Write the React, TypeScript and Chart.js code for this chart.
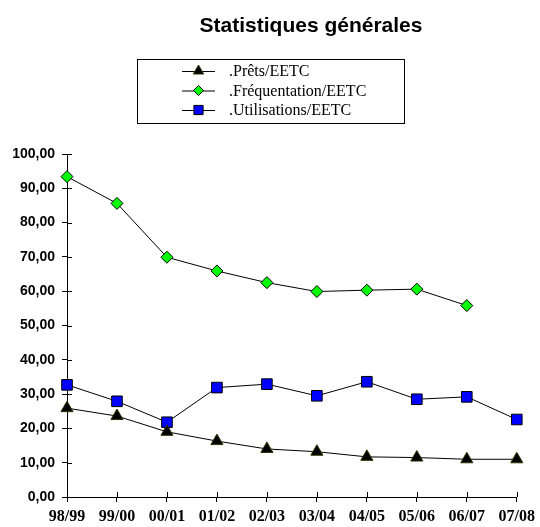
import React, { useEffect, useRef } from 'react';
import { Chart, registerables } from 'chart.js';

Chart.register(...registerables);

const chartTitle = 'Statistiques générales';
const categories = ['98/99', '99/00', '00/01', '01/02', '02/03', '03/04', '04/05', '05/06', '06/07', '07/08'];
const seriesLabels = ['.Prêts/EETC', '.Fréquentation/EETC', '.Utilisations/EETC'];
const pretsValues = [25.9, 23.6, 19.0, 16.3, 14.0, 13.2, 11.7, 11.5, 11.0, 11.0];
const frequentationValues = [93.4, 85.6, 69.9, 65.9, 62.5, 59.9, 60.3, 60.6, 55.8, null];
const utilisationsValues = [32.7, 27.9, 21.8, 31.9, 32.9, 29.5, 33.6, 28.5, 29.2, 22.6];
const yMin = 0;
const yMax = 100;
const yStep = 10;

const formatTick = (v: number) => v.toFixed(2).replace('.', ',');

function drawMarker(ctx: CanvasRenderingContext2D, style: string, x: number, y: number, r: number, fill: string, stroke: string) {
  ctx.save();
  ctx.fillStyle = fill;
  ctx.strokeStyle = stroke;
  ctx.lineWidth = 1;
  ctx.beginPath();
  if (style === 'triangle') {
    ctx.moveTo(x, y - r);
    ctx.lineTo(x + r * 0.866, y + r * 0.5);
    ctx.lineTo(x - r * 0.866, y + r * 0.5);
    ctx.closePath();
  } else if (style === 'rectRot') {
    ctx.moveTo(x, y - r);
    ctx.lineTo(x + r, y);
    ctx.lineTo(x, y + r);
    ctx.lineTo(x - r, y);
    ctx.closePath();
  } else {
    const s = r * Math.SQRT1_2;
    ctx.rect(x - s, y - s, 2 * s, 2 * s);
  }
  ctx.fill();
  ctx.stroke();
  ctx.restore();
}

const decorPlugin = {
  id: 'decor',
  afterDraw(chart: any) {
    const ctx: CanvasRenderingContext2D = chart.ctx;
    const { chartArea } = chart;
    const xs = chart.scales.x;
    const ys = chart.scales.y;
    ctx.save();
    // inner tick halves
    ctx.strokeStyle = '#000';
    ctx.lineWidth = 1;
    ctx.beginPath();
    ys.ticks.forEach((_t: any, i: number) => {
      const py = Math.round(ys.getPixelForTick(i)) + 0.5;
      ctx.moveTo(chartArea.left, py);
      ctx.lineTo(chartArea.left + 5, py);
    });
    xs.ticks.forEach((_t: any, i: number) => {
      const px = Math.round(xs.getPixelForTick(i)) + 0.5;
      ctx.moveTo(px, chartArea.bottom);
      ctx.lineTo(px, chartArea.bottom - 5);
    });
    ctx.stroke();

    // title
    ctx.fillStyle = '#000';
    ctx.font = 'bold 21px "Liberation Sans", Arial, sans-serif';
    ctx.textAlign = 'center';
    ctx.textBaseline = 'alphabetic';
    ctx.fillText(chartTitle, 311, 32);

    // legend box
    ctx.strokeStyle = '#000';
    ctx.lineWidth = 1;
    ctx.strokeRect(137.5, 59.5, 267, 64);
    const rows = [71, 90.5, 110];
    ctx.font = '16px "Liberation Serif", "Times New Roman", serif';
    ctx.textAlign = 'left';
    ctx.textBaseline = 'middle';
    chart.data.datasets.forEach((ds: any, i: number) => {
      const y = rows[i];
      ctx.beginPath();
      ctx.strokeStyle = '#000';
      ctx.moveTo(182, y + 0.5);
      ctx.lineTo(215, y + 0.5);
      ctx.stroke();
      drawMarker(ctx, ds.pointStyle, 198.5, y, ds.pointRadius - 1, ds.pointBackgroundColor, ds.pointBorderColor);
      ctx.fillStyle = '#000';
      ctx.fillText(ds.label, 229, y + 1);
    });
    ctx.restore();
  },
};

export default function App() {
  const ref = useRef<HTMLCanvasElement | null>(null);
  useEffect(() => {
    if (!ref.current) return;
    const chart = new Chart(ref.current, {
      type: 'line',
      data: {
        labels: categories,
        datasets: [
          {
            label: seriesLabels[0],
            data: pretsValues,
            borderColor: '#000',
            borderWidth: 1,
            pointStyle: 'triangle',
            pointRadius: 7,
            pointBackgroundColor: '#000000',
            pointBorderColor: '#333300',
            pointBorderWidth: 1,
            tension: 0,
          },
          {
            label: seriesLabels[1],
            data: frequentationValues,
            borderColor: '#000',
            borderWidth: 1,
            pointStyle: 'rectRot',
            pointRadius: 6,
            pointBackgroundColor: '#00ff00',
            pointBorderColor: '#000',
            pointBorderWidth: 1,
            tension: 0,
          },
          {
            label: seriesLabels[2],
            data: utilisationsValues,
            borderColor: '#000',
            borderWidth: 1,
            pointStyle: 'rect',
            pointRadius: 7.5,
            pointBackgroundColor: '#0000ff',
            pointBorderColor: '#000',
            pointBorderWidth: 1,
            tension: 0,
          },
        ],
      },
      options: {
        responsive: false,
        animation: false,
        layout: { padding: { top: 154, left: 0, right: 21, bottom: 0 } },
        plugins: {
          legend: { display: false },
          title: { display: false },
          tooltip: { enabled: false },
        },
        scales: {
          x: {
            offset: false,
            grid: { display: true, drawOnChartArea: false, drawTicks: true, tickLength: 5, color: '#000', lineWidth: 1 },
            border: { display: true, color: '#000', width: 1 },
            ticks: {
              color: '#000',
              padding: 5,
              maxRotation: 0,
              autoSkip: false,
              font: { family: '"Liberation Serif", "Times New Roman", serif', size: 16, weight: 'bold' },
            },
            afterFit: (s: any) => { s.height = 30; },
          },
          y: {
            min: yMin,
            max: yMax,
            grid: { display: true, drawOnChartArea: false, drawTicks: true, tickLength: 5, color: '#000', lineWidth: 1 },
            border: { display: true, color: '#000', width: 1 },
            ticks: {
              stepSize: yStep,
              color: '#000',
              padding: 7,
              font: { family: '"Liberation Sans", Arial, sans-serif', size: 14, weight: 'bold' },
              callback: (v: any) => formatTick(Number(v)),
            },
            afterFit: (s: any) => { s.width = 67; },
          },
        },
      },
      plugins: [decorPlugin],
    } as any);
    return () => chart.destroy();
  }, []);
  return (
    <div style={{ position: 'absolute', left: 0, top: 0, width: 540, height: 527, background: '#fff' }}>
      <canvas ref={ref} width={540} height={527} style={{ display: 'block' }} />
    </div>
  );
}
